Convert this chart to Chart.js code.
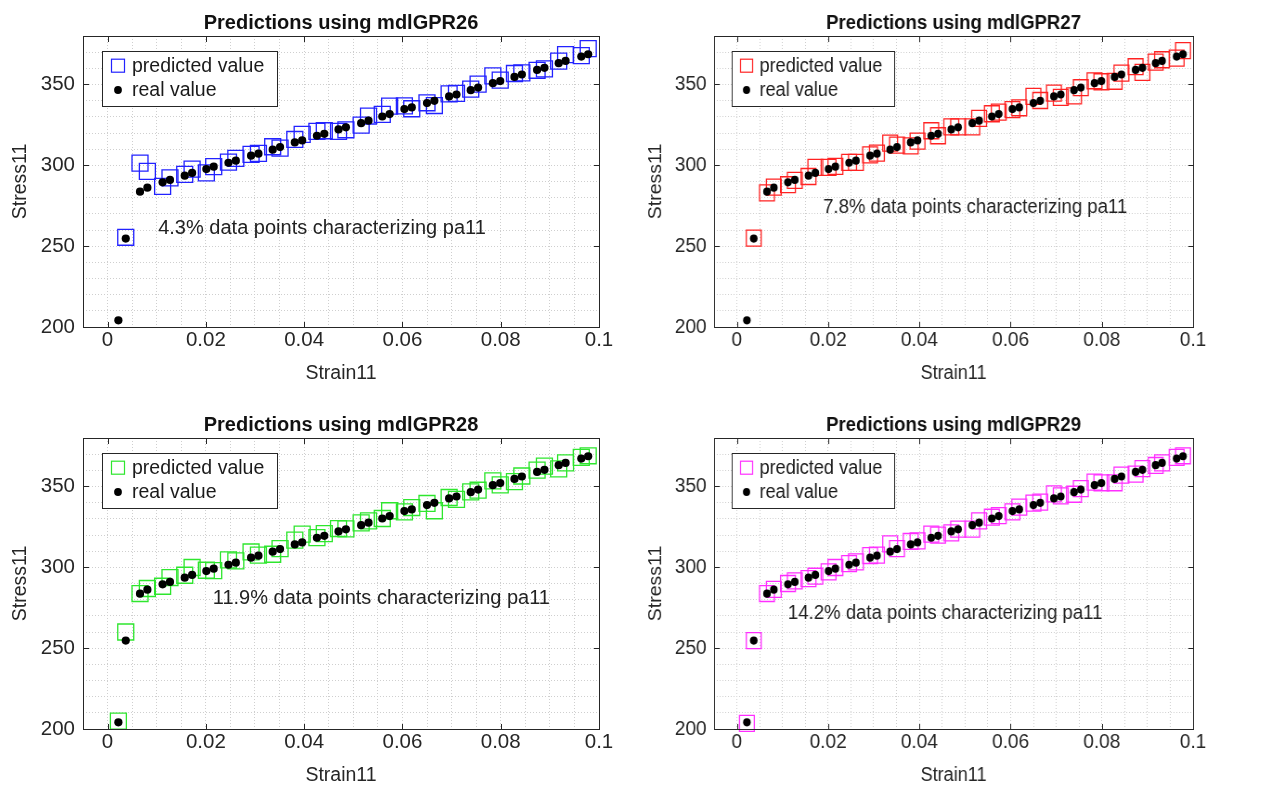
<!DOCTYPE html>
<html>
<head>
<meta charset="utf-8">
<script src="https://cdn.jsdelivr.net/npm/chart.js@4.4.0/dist/chart.umd.min.js"></script>
<style>
html,body{margin:0;padding:0;background:#fff;overflow:hidden;width:1263px;height:786px;}
.panel{position:absolute;width:620px;height:385px;transform-origin:0 0;}
canvas{display:block;}
</style>
</head>
<body>
<div class="panel" id="p0"><canvas id="c0" width="620" height="385"></canvas></div>
<div class="panel" id="p1"><canvas id="c1" width="620" height="385"></canvas></div>
<div class="panel" id="p2"><canvas id="c2" width="620" height="385"></canvas></div>
<div class="panel" id="p3"><canvas id="c3" width="620" height="385"></canvas></div>
<script>
// ---------------- data ----------------
const strain = [0.0022,0.0037,0.0066,0.0081,0.0112,0.0127,0.0157,0.0172,0.0201,0.0216,0.0246,0.0261,0.0292,0.0307,0.0336,0.0351,0.0381,0.0396,0.0426,0.0441,0.0470,0.0485,0.0516,0.0531,0.0559,0.0574,0.0604,0.0619,0.0650,0.0665,0.0695,0.0710,0.0739,0.0754,0.0784,0.0799,0.0828,0.0843,0.0874,0.0889,0.0918,0.0932,0.0964,0.0978];
const realStress = [204.1,254.7,283.7,286.2,289.5,291.0,293.6,295.3,297.7,299.2,301.6,302.9,306.0,307.2,309.7,311.3,314.2,315.4,318.3,319.5,322.2,323.5,326.1,327.6,330.2,331.7,334.8,335.8,338.5,339.9,342.6,343.8,346.5,348.1,350.8,352.1,354.7,356.2,359.0,360.3,363.2,364.6,367.3,368.7];
const pred26 = [null,255.5,301.4,296.3,287.0,292.2,294.4,297.7,295.3,299.2,302.0,304.3,306.8,307.4,311.5,310.7,316.0,319.1,321.0,321.4,321.0,322.0,324.9,330.5,331.5,336.6,336.8,335.0,338.7,337.0,344.2,344.5,347.1,350.2,355.3,352.7,356.8,357.2,358.8,359.7,364.5,368.5,367.9,372.2];
const pred27 = [null,255.0,283.0,286.5,288.0,290.7,293.1,298.7,298.7,299.3,301.8,301.8,306.5,307.5,313.7,312.5,312.0,315.0,321.4,318.3,323.8,323.8,323.8,329.0,331.9,332.9,334.5,335.6,342.6,340.1,344.7,342.0,343.0,348.0,352.3,351.7,352.0,357.0,361.0,357.5,363.8,365.3,366.3,371.0];
const pred28 = [204.9,260.0,283.8,286.9,288.3,293.7,295.1,299.9,298.2,298.0,304.6,304.0,309.5,307.5,308.1,311.6,316.8,320.5,318.4,320.9,324.0,323.8,327.5,328.7,330.2,335.0,334.3,337.0,339.5,335.0,343.2,342.0,346.7,347.7,353.5,351.0,353.0,356.5,360.1,362.6,360.9,364.6,368.0,369.0];
const pred29 = [203.5,254.7,283.8,286.4,290.0,291.6,293.0,294.5,297.2,299.9,302.3,303.4,307.3,307.5,314.5,311.6,316.0,316.4,320.5,319.9,321.3,323.6,323.6,328.7,331.0,332.0,334.3,337.2,339.7,340.3,345.4,344.2,345.2,348.7,352.7,352.3,352.3,357.0,357.6,361.1,363.0,364.6,368.0,369.0];

const modelNames = ['mdlGPR26','mdlGPR27','mdlGPR28','mdlGPR29'];
const percentages = ['4.3%','7.8%','11.9%','14.2%'];
const xMajorTicks = [0,0.02,0.04,0.06,0.08,0.1];
const xTickLabels = ['0','0.02','0.04','0.06','0.08','0.1'];
const yMajorTicks = [200,250,300,350];
const yTickLabels = ['200','250','300','350'];

// ---------------- layout / style ----------------
const FONT = '"Liberation Sans", Arial, Helvetica, sans-serif';
const TXT = '#262626';
const X_MIN = -0.005, X_MAX = 0.1, X_STEP = 0.005;
const Y_MIN = 200, Y_MAX = 380, Y_STEP = 10;
const xGrid = []; for (let i = 0; i <= Math.round((X_MAX - X_MIN) / X_STEP); i++) xGrid.push(+(X_MIN + i * X_STEP).toFixed(4));
const yGrid = []; for (let v = Y_MIN; v <= Y_MAX; v += Y_STEP) yGrid.push(v);

const panels = [
  {pred: pred26, color: '#2222ff', noteX: 0.0103, noteY: 261, left: 0, top: 0, sx: 1},
  {pred: pred27, color: '#ff2222', noteX: 0.0189, noteY: 274, left: 637, top: 0, sx: 0.9283},
  {pred: pred28, color: '#2ee62e', noteX: 0.0214, noteY: 281, left: 0, top: 401.7, sx: 1},
  {pred: pred29, color: '#ff2eff', noteX: 0.0112, noteY: 271.4, left: 637, top: 401.7, sx: 0.9283}
];

function labelFor(v, majors, labels) {
  for (let i = 0; i < majors.length; i++) if (Math.abs(majors[i] - v) < 1e-9) return labels[i];
  return '';
}

const decor = {
  id: 'decor',
  afterDraw(chart, args, o) {
    const {ctx, chartArea: a} = chart;
    const xs = chart.scales.x, ys = chart.scales.y;
    ctx.save();
    // axes box
    ctx.strokeStyle = TXT; ctx.lineWidth = 1; ctx.setLineDash([]);
    const L = Math.round(a.left) + 0.5, T = Math.round(a.top) + 0.5, R = Math.round(a.right) + 0.5, B = Math.round(a.bottom) + 0.5;
    ctx.strokeRect(L, T, R - L, B - T);
    // inward tick marks
    ctx.beginPath();
    xMajorTicks.forEach(v => {
      const p = Math.round(xs.getPixelForValue(v)) + 0.5;
      ctx.moveTo(p, B); ctx.lineTo(p, B - 5.5);
      ctx.moveTo(p, T); ctx.lineTo(p, T + 5.5);
    });
    yMajorTicks.forEach(v => {
      const p = Math.round(ys.getPixelForValue(v)) + 0.5;
      ctx.moveTo(L, p); ctx.lineTo(L + 5.5, p);
      ctx.moveTo(R, p); ctx.lineTo(R - 5.5, p);
    });
    ctx.stroke();
    // title
    ctx.fillStyle = '#111';
    ctx.font = 'bold 20px ' + FONT;
    ctx.textAlign = 'center'; ctx.textBaseline = 'middle';
    ctx.fillText(o.title, (a.left + a.right) / 2, a.top - 12.5);
    // annotation
    ctx.fillStyle = '#222';
    ctx.font = '20px ' + FONT;
    ctx.textAlign = 'left';
    ctx.fillText(o.note, xs.getPixelForValue(o.noteX), ys.getPixelForValue(o.noteY));
    // legend
    const ds = chart.data.datasets;
    const bx = Math.round(a.left + 18.7) + 0.5, by = Math.round(a.top + 14.7) + 0.5;
    ctx.fillStyle = '#fff';
    ctx.fillRect(bx, by, 175, 55);
    ctx.strokeStyle = TXT; ctx.lineWidth = 1;
    ctx.strokeRect(bx, by, 175, 55);
    const mx = a.left + 35, r1 = a.top + 29.7, r2 = a.top + 54;
    ctx.strokeStyle = ds[0].borderColor; ctx.lineWidth = 1.2;
    ctx.strokeRect(mx - 6.5, r1 - 6.5, 13, 13);
    ctx.fillStyle = '#000';
    ctx.beginPath(); ctx.arc(mx, r2, 3.9, 0, Math.PI * 2); ctx.fill();
    ctx.fillStyle = '#1a1a1a';
    ctx.font = '19.5px ' + FONT;
    ctx.textAlign = 'left'; ctx.textBaseline = 'middle';
    ctx.fillText(ds[0].label, a.left + 49, r1 + 0.5);
    ctx.fillText(ds[1].label, a.left + 49, r2 + 0.5);
    ctx.restore();
  }
};

panels.forEach((p, k) => {
  const div = document.getElementById('p' + k);
  div.style.left = p.left + 'px';
  div.style.top = p.top + 'px';
  div.style.transform = 'scaleX(' + p.sx + ')';
  const predPts = [];
  strain.forEach((x, i) => { if (p.pred[i] !== null) predPts.push({x: x, y: p.pred[i]}); });
  const realPts = strain.map((x, i) => ({x: x, y: realStress[i]}));
  new Chart(document.getElementById('c' + k), {
    type: 'scatter',
    data: {
      datasets: [
        {label: 'predicted value', data: predPts, pointStyle: 'rect', pointRadius: 11.3, pointHoverRadius: 11.3,
         borderColor: p.color, backgroundColor: 'rgba(0,0,0,0)', borderWidth: 1.3, order: 2, clip: false},
        {label: 'real value', data: realPts, pointStyle: 'circle', pointRadius: 4.1, pointHoverRadius: 4.1,
         borderColor: '#000', backgroundColor: '#000', borderWidth: 0, order: 1, clip: false}
      ]
    },
    options: {
      responsive: false, animation: false, devicePixelRatio: 1,
      layout: {padding: {top: 36, right: 21, bottom: 0, left: 0}},
      plugins: {
        legend: {display: false}, tooltip: {enabled: false}, title: {display: false},
        decor: {title: 'Predictions using ' + modelNames[k], note: percentages[k] + ' data points characterizing pa11', noteX: p.noteX, noteY: p.noteY}
      },
      scales: {
        x: {
          type: 'linear', min: X_MIN, max: X_MAX,
          afterBuildTicks: s => { s.ticks = xGrid.map(v => ({value: v})); },
          afterFit: s => { s.height = 58; },
          ticks: {autoSkip: false, maxRotation: 0, minRotation: 0, padding: 1, color: TXT, font: {family: FONT, size: 20.5},
                  callback: v => labelFor(v, xMajorTicks, xTickLabels)},
          grid: {color: '#cfcfcf', lineWidth: 1, drawTicks: false},
          border: {display: false, dash: [1, 2]},
          title: {display: true, text: 'Strain11', color: TXT, font: {family: FONT, size: 19.5}, padding: {top: 0, bottom: 0}}
        },
        y: {
          type: 'linear', min: Y_MIN, max: Y_MAX,
          afterBuildTicks: s => { s.ticks = yGrid.map(v => ({value: v})); },
          afterFit: s => { s.width = 83; },
          ticks: {autoSkip: false, padding: 8, color: TXT, font: {family: FONT, size: 20.5},
                  callback: v => labelFor(v, yMajorTicks, yTickLabels)},
          grid: {color: '#cfcfcf', lineWidth: 1, drawTicks: false},
          border: {display: false, dash: [1, 2]},
          title: {display: true, text: 'Stress11', color: TXT, font: {family: FONT, size: 19.5}, padding: {top: 9, bottom: 0}}
        }
      }
    },
    plugins: [decor]
  });
});
</script>
</body>
</html>
